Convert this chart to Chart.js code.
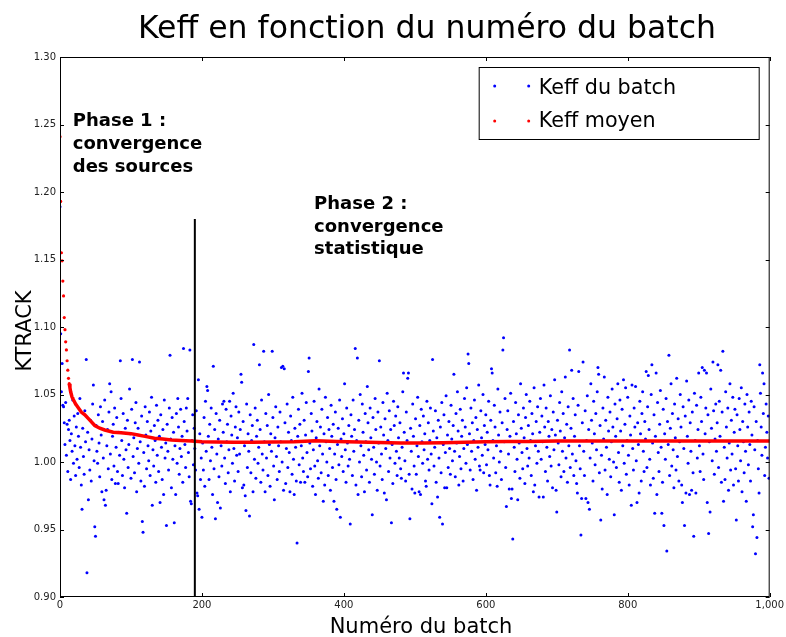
<!DOCTYPE html>
<html>
<head>
<meta charset="utf-8">
<script src="https://cdn.jsdelivr.net/npm/chart.js@4.4.0/dist/chart.umd.min.js"></script>
<style>
  html, body { margin: 0; padding: 0; background: #fff; }
</style>
</head>
<body>
<canvas id="keffChart" width="786" height="637"></canvas>
<script>
// Keff of each batch (index = batch number)
const keffBatch = [
  1.189, 1.095, 1.052, 1.073, 1.042, 1.041, 1.029, 1.013, 1.044, 1.005, 1.028, 0.993, 1.024, 1.031, 1.016, 0.987, 1.021, 1.008, 1.046, 0.999, 1.034, 1.012, 0.990, 1.026, 1.002,
  1.036, 1.019, 0.996, 1.047, 1.011, 0.983, 0.965, 1.025, 1.004, 0.991, 1.038, 1.015, 1.076, 0.918, 1.022, 0.972, 1.009, 0.994, 1.031, 0.986, 1.017, 1.043, 1.057, 1.001, 0.952,
  0.945, 1.027, 1.008, 0.999, 1.035, 1.014, 0.989, 1.041, 1.020, 0.978, 1.030, 1.003, 0.972, 1.046, 0.968, 0.979, 1.012, 1.024, 0.995, 1.037, 1.058, 1.006, 1.052, 0.987, 1.019,
  1.028, 0.997, 1.040, 0.984, 1.011, 1.033, 0.993, 0.984, 1.022, 1.005, 1.075, 1.047, 1.016, 0.990, 1.036, 1.002, 0.981, 1.025, 1.009, 0.962, 1.031, 0.996, 1.013, 1.054, 1.021,
  0.988, 1.039, 1.076, 1.004, 1.018, 0.992, 1.029, 1.044, 0.978, 1.010, 1.025, 0.999, 1.074, 1.015, 0.986, 1.034, 0.956, 0.948, 1.007, 0.982, 1.041, 1.020, 0.995, 1.030, 1.012,
  1.001, 1.037, 0.990, 1.023, 1.048, 0.968, 1.009, 0.997, 1.027, 1.016, 0.985, 1.042, 1.005, 1.031, 0.993, 1.019, 0.970, 1.035, 1.011, 0.987, 1.024, 0.976, 1.046, 1.003, 1.014,
  0.953, 1.028, 1.008, 0.994, 1.040, 1.079, 1.017, 0.981, 1.033, 1.002, 1.022, 0.955, 1.012, 0.976, 1.036, 0.999, 1.047, 1.026, 0.991, 1.010, 1.039, 1.004, 1.019, 0.985, 1.084,
  1.030, 1.013, 0.996, 1.040, 1.023, 1.047, 1.007, 0.989, 1.083, 0.971, 0.969, 1.016, 1.035, 0.998, 1.025, 1.010, 0.994, 1.038, 0.977, 0.975, 1.061, 0.965, 1.021, 0.987, 1.003,
  0.959, 1.014, 0.994, 1.033, 0.982, 1.045, 1.008, 1.056, 1.053, 1.019, 0.987, 1.028, 1.001, 1.040, 1.011, 0.976, 1.071, 0.995, 1.024, 0.958, 1.036, 1.006, 0.970, 1.017, 0.989,
  1.031, 0.966, 1.012, 0.997, 1.043, 1.022, 1.045, 1.003, 0.984, 1.039, 1.015, 1.028, 0.992, 1.009, 1.045, 0.978, 1.034, 1.020, 0.999, 1.051, 1.010, 0.986, 1.026, 1.041, 1.005,
  1.018, 0.993, 1.037, 1.006, 1.024, 1.065, 1.059, 0.981, 1.030, 0.983, 1.012, 0.975, 0.964, 1.043, 0.996, 1.021, 1.008, 0.960, 1.035, 0.992, 1.016, 1.027, 0.978, 1.087, 1.002,
  1.040, 0.988, 1.019, 1.031, 0.999, 1.011, 1.072, 1.024, 0.985, 1.046, 1.006, 0.994, 1.082, 1.015, 0.978, 1.036, 1.003, 1.027, 0.990, 1.050, 1.013, 0.982, 1.021, 1.008, 1.082,
  1.033, 0.997, 0.972, 1.018, 1.041, 1.004, 0.987, 1.026, 1.012, 0.993, 1.037, 1.015, 1.070, 1.000, 1.071, 0.979, 1.069, 1.029, 0.984, 1.010, 1.043, 0.996, 1.022, 1.007, 0.978,
  1.034, 1.016, 0.991, 1.048, 1.002, 0.976, 1.025, 1.011, 0.986, 0.940, 1.019, 1.039, 0.998, 1.028, 0.985, 1.012, 1.051, 1.003, 0.993, 1.031, 0.985, 1.020, 1.044, 1.007, 0.989,
  1.067, 1.077, 1.014, 0.995, 1.036, 1.023, 0.982, 1.009, 1.045, 0.997, 0.976, 1.018, 1.030, 1.001, 0.988, 1.054, 1.012, 1.026, 0.992, 1.039, 1.006, 0.971, 1.021, 0.983, 1.048,
  1.015, 1.000, 1.033, 0.990, 1.024, 1.010, 0.979, 1.042, 1.019, 0.996, 1.028, 0.971, 1.006, 1.037, 0.987, 0.965, 1.013, 1.025, 0.998, 1.046, 0.959, 1.017, 1.004, 1.032, 0.993,
  1.021, 1.058, 1.009, 0.985, 1.040, 1.014, 0.997, 1.027, 1.002, 0.954, 1.035, 1.019, 0.990, 1.046, 1.008, 1.024, 1.084, 0.983, 1.016, 1.077, 0.976, 1.031, 1.000, 1.050, 1.012,
  0.989, 1.043, 1.022, 1.005, 0.978, 1.036, 1.015, 0.994, 1.056, 1.029, 1.009, 0.985, 1.040, 1.018, 1.002, 0.961, 1.033, 1.011, 0.991, 1.047, 1.024, 1.000, 0.979, 1.037, 1.014,
  1.075, 0.997, 1.026, 1.006, 0.987, 1.044, 1.020, 0.977, 1.032, 1.010, 0.972, 1.051, 1.016, 0.993, 1.038, 1.003, 1.024, 0.955, 1.013, 0.984, 1.045, 1.027, 0.999, 1.034, 1.008,
  0.990, 1.041, 1.018, 1.003, 1.029, 0.995, 0.988, 1.011, 1.052, 1.066, 1.022, 1.001, 0.986, 1.037, 1.016, 1.062, 1.066, 0.991, 0.958, 1.025, 1.008, 0.980, 1.043, 1.019, 0.997,
  0.977, 1.032, 0.991, 1.012, 1.048, 1.004, 0.978, 1.027, 0.976, 1.039, 1.015, 0.999, 1.034, 1.009, 1.021, 0.986, 0.982, 1.045, 1.002, 1.029, 0.994, 1.016, 1.040, 1.006, 0.969,
  1.076, 1.023, 0.997, 1.011, 1.038, 0.985, 1.018, 0.974, 1.031, 1.003, 0.959, 1.026, 0.992, 1.044, 0.954, 1.013, 1.035, 0.981, 1.007, 1.049, 0.981, 1.020, 0.996, 1.030, 1.010,
  0.991, 1.042, 1.017, 1.001, 1.027, 1.065, 1.008, 0.989, 1.036, 1.014, 1.052, 1.023, 0.983, 1.004, 1.039, 0.995, 1.019, 1.031, 0.986, 1.010, 1.047, 1.026, 0.999, 1.055, 1.013,
  1.080, 1.073, 1.021, 0.994, 1.040, 1.008, 1.029, 0.987, 1.016, 1.046, 1.002, 1.033, 0.979, 1.024, 1.011, 1.057, 0.997, 0.994, 1.038, 1.018, 1.005, 1.050, 0.992, 1.027, 1.013,
  1.035, 0.998, 1.022, 1.009, 1.045, 0.990, 0.983, 1.031, 1.069, 1.066, 1.016, 1.003, 1.042, 1.026, 0.992, 1.012, 0.982, 1.054, 1.020, 1.000, 1.037, 1.008, 0.987, 1.029, 1.083,
  1.092, 1.015, 1.047, 0.996, 0.967, 1.024, 1.038, 1.006, 0.980, 1.019, 1.051, 0.973, 0.980, 0.943, 1.030, 1.011, 0.993, 1.044, 1.021, 1.002, 0.972, 1.035, 1.014, 0.988, 1.058,
  1.025, 1.007, 0.995, 1.040, 1.018, 0.984, 1.033, 1.050, 1.010, 0.997, 1.027, 1.003, 1.045, 1.016, 0.990, 1.036, 1.021, 0.978, 1.055, 0.983, 1.012, 1.030, 0.999, 1.041, 1.008,
  0.974, 1.022, 1.047, 1.002, 1.034, 1.015, 0.974, 1.057, 1.026, 0.993, 1.040, 1.011, 0.986, 1.030, 1.019, 1.004, 1.049, 0.997, 1.024, 0.981, 1.037, 1.009, 1.061, 1.020, 0.979,
  0.963, 1.031, 1.014, 0.998, 1.044, 1.023, 0.989, 1.052, 1.008, 1.036, 0.993, 1.018, 1.063, 1.003, 1.028, 0.985, 1.041, 1.012, 1.083, 0.996, 1.025, 1.068, 1.006, 1.047, 0.990,
  1.019, 1.035, 1.001, 0.984, 0.977, 1.042, 1.067, 1.012, 0.995, 0.946, 0.973, 1.029, 1.074, 1.008, 0.990, 1.038, 0.973, 1.016, 1.049, 0.970, 1.024, 0.965, 1.003, 1.058, 1.031,
  1.014, 0.986, 1.045, 1.021, 0.998, 1.036, 1.009, 1.052, 1.070, 1.065, 0.992, 1.027, 0.957, 1.005, 0.980, 1.040, 1.017, 1.063, 0.994, 1.031, 1.011, 0.976, 1.048, 1.023, 1.002,
  1.037, 0.989, 1.015, 1.054, 1.026, 1.000, 0.961, 1.043, 1.019, 0.996, 1.032, 1.058, 1.007, 0.985, 1.046, 1.023, 0.979, 1.039, 1.012, 1.061, 0.999, 1.028, 1.055, 0.991, 1.016,
  1.048, 1.005, 0.983, 1.034, 1.020, 0.968, 1.057, 1.010, 0.994, 1.040, 1.026, 1.056, 1.001, 0.970, 1.029, 1.013, 0.977, 1.045, 1.021, 0.986, 1.036, 1.052, 1.008, 0.993, 1.030,
  1.017, 1.067, 0.996, 1.041, 1.064, 1.024, 1.002, 0.983, 1.050, 1.072, 1.014, 0.988, 1.035, 0.962, 1.019, 1.066, 0.976, 1.044, 1.007, 0.993, 1.028, 1.053, 1.011, 0.962, 0.985,
  1.039, 0.953, 1.021, 1.002, 1.047, 0.934, 1.030, 1.013, 1.079, 0.990, 1.025, 1.058, 0.997, 1.036, 1.009, 0.981, 1.043, 1.018, 0.994, 1.062, 1.004, 1.032, 0.986, 1.015, 1.050,
  1.026, 0.983, 0.970, 1.041, 1.010, 0.953, 1.034, 0.977, 1.060, 1.019, 0.999, 1.046, 0.976, 1.029, 1.008, 0.979, 1.037, 0.992, 0.945, 1.051, 1.016, 0.977, 1.042, 1.003, 1.024,
  1.066, 1.012, 0.993, 1.048, 1.030, 1.070, 1.006, 0.987, 1.068, 1.021, 1.040, 1.066, 0.970, 1.035, 0.947, 1.015, 0.963, 1.054, 1.025, 1.001, 1.074, 1.038, 0.991, 1.017, 1.043,
  1.008, 1.029, 1.072, 0.996, 1.045, 1.019, 1.068, 0.985, 1.037, 1.082, 0.971, 1.011, 0.987, 1.052, 1.026, 1.003, 1.040, 0.979, 1.014, 1.058, 0.994, 1.031, 1.006, 1.048, 0.983,
  1.022, 1.039, 0.995, 0.957, 1.035, 1.012, 0.986, 1.047, 1.024, 1.001, 1.055, 0.978, 1.030, 1.015, 0.992, 1.043, 1.008, 0.971, 1.050, 1.026, 0.998, 1.037, 1.013, 0.986, 1.045,
  1.020, 0.952, 0.961, 1.041, 1.009, 0.932, 1.030, 0.944, 1.016, 0.995, 0.977, 1.072, 1.051, 1.026, 1.005, 1.066, 1.036, 1.058, 0.990, 1.011, 1.043, 1.022, 1.003, 1.034, 0.988
];

// running mean (Keff moyen)
const meanBatches = [0, 1, 2, 3, 4, 5, 6, 7, 8, 9, 10, 11, 12, 13, 14, 15, 16, 17, 18, 20, 22, 26, 30, 35, 42, 49, 56, 63, 75, 86, 100, 110, 120, 133, 145, 157, 170, 185,
  200, 220, 245, 270, 300, 330, 360, 390, 420, 450, 480, 510, 540, 570, 600, 630, 660, 700, 740, 780, 820, 860, 900, 940, 970, 1000];
const meanValues = [1.241, 1.193, 1.155, 1.149, 1.134, 1.123, 1.107, 1.098, 1.089, 1.083, 1.075, 1.068, 1.062, 1.058, 1.055, 1.052, 1.050, 1.048, 1.047, 1.045, 1.043, 1.040, 1.037, 1.035, 1.031, 1.027, 1.025, 1.0237, 1.022, 1.0217, 1.021, 1.020, 1.019, 1.0176, 1.017, 1.0163, 1.016, 1.0156,
  1.0150, 1.0148, 1.0146, 1.0146, 1.0148, 1.0150, 1.0158, 1.0152, 1.0148, 1.0145, 1.0140, 1.0140, 1.0143, 1.0146, 1.0150, 1.0152, 1.0152, 1.0155, 1.0156, 1.0156, 1.0156, 1.0155, 1.0155, 1.0155, 1.0156, 1.0156];

// phase separator
const phaseBatch = 190;
const phaseRange = [0.90, 1.18];

const xTicks = [0, 200, 400, 600, 800, 1000];
const seriesLabels = ['Keff du batch', 'Keff moyen'];
const chartTitle = 'Keff en fonction du numéro du batch';
const xTitle = 'Numéro du batch';
const yTitle = 'KTRACK';

Chart.defaults.font.family = "'DejaVu Sans', 'Liberation Sans', sans-serif";
Chart.defaults.color = '#000';

const decor = {
  id: 'decor',
  afterDatasetsDraw(chart) {
    const ctx = chart.ctx;
    const a = chart.chartArea;
    const xs = chart.scales.x, ys = chart.scales.y;
    ctx.save();
    // frame
    ctx.strokeStyle = '#000';
    ctx.lineWidth = 1;
    ctx.strokeRect(a.left + 0.5, a.top + 0.5, a.right - a.left - 1, a.bottom - a.top - 1);
    // inward ticks, all four sides
    ctx.beginPath();
    xs.ticks.forEach(t => {
      const p = Math.round(xs.getPixelForValue(t.value)) + 0.5;
      ctx.moveTo(p, a.bottom); ctx.lineTo(p, a.bottom - 4);
      ctx.moveTo(p, a.top); ctx.lineTo(p, a.top + 4);
    });
    ys.ticks.forEach(t => {
      const p = Math.round(ys.getPixelForValue(t.value)) + 0.5;
      ctx.moveTo(a.left, p); ctx.lineTo(a.left + 4, p);
      ctx.moveTo(a.right, p); ctx.lineTo(a.right - 4, p);
    });
    ctx.stroke();

    // titles (matplotlib puts them a little right of the canvas centre)
    ctx.fillStyle = '#000';
    ctx.textAlign = 'center';
    ctx.textBaseline = 'alphabetic';
    ctx.font = "31.5px 'DejaVu Sans'";
    ctx.fillText(chartTitle, 427, 38);
    ctx.font = "21px 'DejaVu Sans'";
    ctx.fillText(xTitle, 421, 633);
    ctx.save();
    ctx.translate(31, 331);
    ctx.rotate(-Math.PI / 2);
    ctx.fillText(yTitle, 0, 0);
    ctx.restore();

    // phase notes
    ctx.textAlign = 'left';
    ctx.font = "bold 18px 'DejaVu Sans'";
    let px = xs.getPixelForValue(18), py = ys.getPixelForValue(1.2489);
    ['Phase 1 :', 'convergence', 'des sources'].forEach((s, i) => ctx.fillText(s, px, py + i * 23));
    px = xs.getPixelForValue(358); py = ys.getPixelForValue(1.1874);
    ['Phase 2 :', 'convergence', 'statistique'].forEach((s, i) => ctx.fillText(s, px, py + i * 22.5));

    // legend box
    const bx = a.right - 291, by = a.top + 10;
    ctx.fillStyle = '#fff';
    ctx.fillRect(bx, by, 280, 72);
    ctx.strokeStyle = '#000';
    ctx.strokeRect(bx + 0.5, by + 0.5, 280, 72);
    const cols = ['#0000ff', '#ff0000'];
    const rowY = [19, 54], textY = [27, 60];
    ctx.font = "20.7px 'DejaVu Sans'";
    seriesLabels.forEach((lab, i) => {
      ctx.fillStyle = cols[i];
      [bx + 16, bx + 50].forEach(cx => {
        ctx.beginPath(); ctx.arc(cx, by + rowY[i], 1.5, 0, Math.PI * 2); ctx.fill();
      });
      ctx.fillStyle = '#000';
      ctx.fillText(lab, bx + 60, by + textY[i]);
    });
    ctx.restore();
  }
};

new Chart(document.getElementById('keffChart'), {
  type: 'scatter',
  data: {
    datasets: [
      {
        label: 'phase',
        data: phaseRange.map(v => ({ x: phaseBatch, y: v })),
        showLine: true,
        borderColor: '#000',
        borderWidth: 2,
        pointRadius: 0,
        order: 0
      },
      {
        label: seriesLabels[1],
        data: meanBatches.map((b, i) => ({ x: b, y: meanValues[i] })),
        showLine: true,
        borderColor: '#ff0000',
        backgroundColor: '#ff0000',
        borderWidth: 3.5,
        pointRadius: c => (c.dataIndex < 14 ? 1.6 : 0),
        pointBorderWidth: 0,
        segment: { borderColor: c => (c.p0DataIndex < 13 ? 'transparent' : '#ff0000') },
        order: 1
      },
      {
        label: seriesLabels[0],
        data: keffBatch.map((v, i) => ({ x: i, y: v })),
        backgroundColor: '#0000ff',
        borderWidth: 0,
        pointRadius: 1.5,
        order: 2
      }
    ]
  },
  options: {
    responsive: false,
    animation: false,
    events: [],
    layout: { padding: { left: 0, right: 13, top: 57, bottom: 0 } },
    plugins: {
      legend: { display: false },
      tooltip: { enabled: false },
      title: { display: false }
    },
    scales: {
      x: {
        type: 'linear',
        min: 0,
        max: 1000,
        afterBuildTicks: s => { s.ticks = xTicks.map(v => ({ value: v })); },
        afterFit: s => { s.height = 40; },
        grid: { display: false, drawTicks: false },
        border: { display: false },
        ticks: { font: { size: 10 }, color: '#222', padding: 2, maxRotation: 0 },
        title: { display: false }
      },
      y: {
        min: 0.9,
        max: 1.3,
        afterFit: s => { s.width = 60; },
        grid: { display: false, drawTicks: false },
        border: { display: false },
        ticks: { stepSize: 0.05, font: { size: 10 }, color: '#222', padding: 4, callback: v => v.toFixed(2) },
        title: { display: false }
      }
    }
  },
  plugins: [decor]
});
</script>
</body>
</html>
